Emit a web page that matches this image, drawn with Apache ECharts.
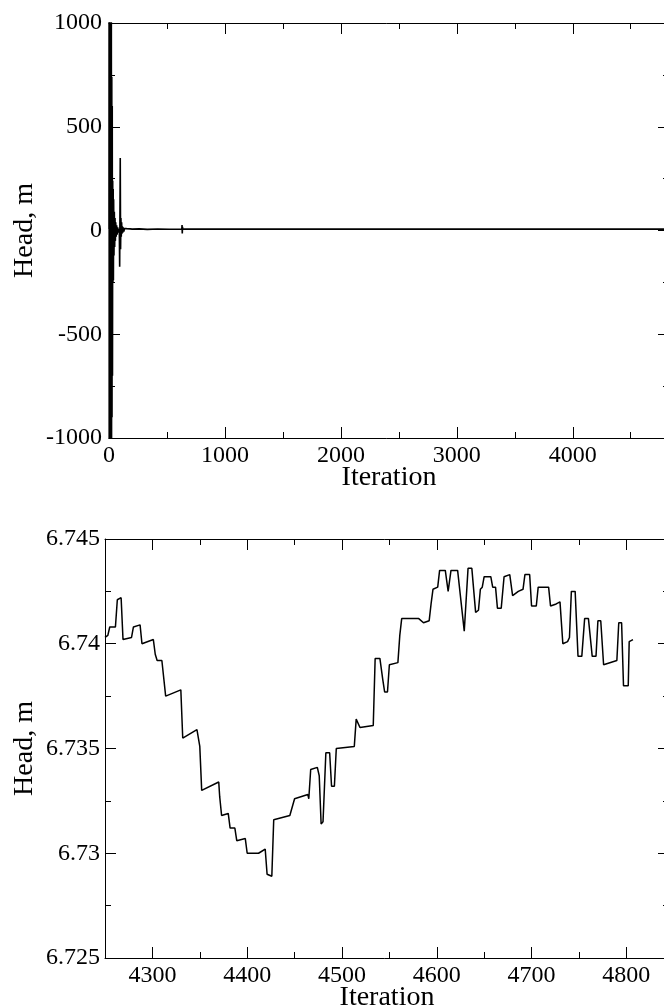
<!DOCTYPE html>
<html>
<head>
<meta charset="utf-8">
<script src="https://cdn.jsdelivr.net/npm/echarts@6/dist/echarts.min.js"></script>
<style>
  html, body { margin: 0; padding: 0; background: #fff; }
  #main { width: 664px; height: 1008px; }
</style>
</head>
<body>
<div id="main"></div>
<script>
// 整个迭代过程 (上图)
var runIter = [0,1,2,4,6,8,10,12,14,16,18,20,22,24,26,28,30,32,34,36,38,40,43,46,49,52,55,58,62,66,
  70,75,80,85,89,92,97,100,103,106,109,112,115,119,123,128,134,142,152,166,182,200,260,330,420,520,628,630,632,634,
  636,640,900,1400,2000,2600,3200,3800,4249];
var runHead = [6.7,1600,-1600,1600,-1600,1500,-1500,1500,-1400,1400,-1300,1200,-1100,740,-900,600,-700,240,-250,200,-240,150,-120,90,-80,60,-50,40,-30,25,
  -20,15,-10,8,-5,-175,349,-90,60,-30,40,-15,20,-10,15,-5,10,2,9,4,8,6.7,8,5.5,7.5,6.2,6.7,26,-14,18,
  6.7,6.74,6.74,6.74,6.74,6.74,6.74,6.74,6.74];

// 最后一段迭代 (下图)
var tailIter = [
  4250,4253,4255,4261,4263,4267,4269,4278,4280,4287,
  4289,4301,4303,4305,4310,4314,4330,4332,4347,4350,
  4352,4370,4371,4373,4380,4382,4387,4389,4398,4400,
  4412,4419,4421,4426,4428,4445,4450,4464,4465,4467,
  4474,4476,4478,4480,4483,4487,4489,4492,4494,4513,
  4515,4519,4533,4535,4540,4543,4545,4548,4550,4559,
  4561,4563,4581,4586,4592,4594,4596,4601,4603,4609,
  4612,4614,4615,4622,4629,4631,4633,4637,4641,4644,
  4646,4648,4650,4657,4659,4662,4664,4668,4671,4677,
  4680,4686,4691,4693,4698,4700,4705,4707,4718,4720,
  4726,4730,4733,4738,4740,4742,4746,4749,4753,4756,
  4760,4764,4768,4770,4773,4776,4790,4792,4795,4797,
  4802,4803,4807];
var tailHead = [
  6.7403,6.7404,6.7408,6.7408,6.7421,6.7422,6.7402,6.7403,6.7408,6.7409,
  6.7400,6.7402,6.7395,6.7392,6.7392,6.7375,6.7378,6.7355,6.7359,6.7351,
  6.7330,6.7334,6.7327,6.7318,6.7319,6.7312,6.7312,6.7306,6.7307,6.7300,
  6.7300,6.7302,6.7290,6.7289,6.7316,6.7318,6.7326,6.7328,6.7326,6.7340,
  6.7341,6.7337,6.7314,6.7315,6.7348,6.7348,6.7332,6.7332,6.7350,6.7351,
  6.7364,6.7360,6.7361,6.7393,6.7393,6.7383,6.7377,6.7377,6.7390,6.7391,
  6.7404,6.7412,6.7412,6.7410,6.7411,6.7419,6.7426,6.7427,6.7435,6.7435,
  6.7425,6.7425,6.7435,6.7435,6.7406,6.7406,6.7436,6.7436,6.7415,6.7416,
  6.7426,6.7427,6.7432,6.7432,6.7427,6.7427,6.7417,6.7417,6.7432,6.7433,
  6.7423,6.7425,6.7426,6.7433,6.7433,6.7418,6.7418,6.7427,6.7427,6.7418,
  6.7419,6.7420,6.7400,6.7401,6.7403,6.7425,6.7425,6.7394,6.7394,6.7412,
  6.7412,6.7394,6.7394,6.7411,6.7411,6.7390,6.7392,6.7410,6.7410,6.7380,
  6.7380,6.7401,6.7402];

// 刻度
var topXTicks = [0, 1000, 2000, 3000, 4000];
var topXMinor = [500, 1500, 2500, 3500, 4500];
var topXLabels = ['0', '1000', '2000', '3000', '4000'];
var topYTicks = [-1000, -500, 0, 500, 1000];
var topYMinor = [-750, -250, 250, 750];
var topYLabels = ['-1000', '-500', '0', '500', '1000'];
var botXTicks = [4300, 4400, 4500, 4600, 4700, 4800];
var botXMinor = [4250, 4350, 4450, 4550, 4650, 4750];
var botXLabels = ['4300', '4400', '4500', '4600', '4700', '4800'];
var botYTicks = [6.725, 6.73, 6.735, 6.74, 6.745];
var botYMinor = [6.7275, 6.7325, 6.7375, 6.7425];
var botYLabels = ['6.725', '6.73', '6.735', '6.74', '6.745'];

var FONT = 'Liberation Serif';

function pairs(xs, ys) {
  var out = [];
  for (var i = 0; i < xs.length; i++) out.push([xs[i], ys[i]]);
  return out;
}
function lookup(vals, labels) {
  return function (v) {
    for (var i = 0; i < vals.length; i++) {
      if (Math.abs(v - vals[i]) < 1e-7) return labels[i];
    }
    return '';
  };
}

// 一根坐标轴 (只画刻度, 可带标签)
function axis(o) {
  return {
    type: 'value',
    gridIndex: o.grid,
    position: o.pos,
    min: o.min,
    max: o.max,
    name: o.name || '',
    nameLocation: 'middle',
    nameGap: o.nameGap || 0,
    nameMoveOverlap: false,
    nameTextStyle: { fontFamily: FONT, fontSize: 28, color: '#000' },
    axisLine: { show: !!o.line, onZero: false, lineStyle: { color: '#000', width: 1 } },
    axisTick: {
      show: true, inside: true, length: o.len || 11,
      customValues: o.ticks,
      lineStyle: { color: '#000', width: 1 }
    },
    axisLabel: {
      show: !!o.labels,
      customValues: o.ticks,
      margin: o.margin || 6,
      fontFamily: FONT, fontSize: 24, color: '#000',
      formatter: o.labels ? lookup(o.ticks, o.labels) : null
    },
    splitLine: { show: false }
  };
}

var chart = echarts.init(document.getElementById('main'));

var TOP_MAX = 4830, BOT_MIN = 4250, BOT_MAX = 4845;

var option = {
  animation: false,
  backgroundColor: '#fff',
  grid: [
    { left: 109, top: 23, right: -5, height: 415, containLabel: false, outerBoundsMode: 'none' },
    { left: 105, top: 539, right: -5, height: 419, containLabel: false, outerBoundsMode: 'none' }
  ],
  xAxis: [
    axis({ grid: 0, pos: 'bottom', min: 0, max: TOP_MAX, ticks: topXTicks, labels: topXLabels, line: true, name: 'Iteration', nameGap: 26, margin: 6 }),
    axis({ grid: 0, pos: 'bottom', min: 0, max: TOP_MAX, ticks: topXMinor, len: 6 }),
    axis({ grid: 0, pos: 'top', min: 0, max: TOP_MAX, ticks: topXTicks, line: true }),
    axis({ grid: 0, pos: 'top', min: 0, max: TOP_MAX, ticks: topXMinor, len: 6 }),
    axis({ grid: 1, pos: 'bottom', min: BOT_MIN, max: BOT_MAX, ticks: botXTicks, labels: botXLabels, line: true, name: 'Iteration', nameGap: 26, margin: 6 }),
    axis({ grid: 1, pos: 'bottom', min: BOT_MIN, max: BOT_MAX, ticks: botXMinor, len: 6 }),
    axis({ grid: 1, pos: 'top', min: BOT_MIN, max: BOT_MAX, ticks: botXTicks, line: true }),
    axis({ grid: 1, pos: 'top', min: BOT_MIN, max: BOT_MAX, ticks: botXMinor, len: 6 })
  ],
  yAxis: [
    axis({ grid: 0, pos: 'left', min: -1000, max: 1000, ticks: topYTicks, labels: topYLabels, line: true, name: 'Head, m', nameGap: 70, margin: 7 }),
    axis({ grid: 0, pos: 'left', min: -1000, max: 1000, ticks: topYMinor, len: 6 }),
    axis({ grid: 0, pos: 'right', min: -1000, max: 1000, ticks: topYTicks, line: true }),
    axis({ grid: 0, pos: 'right', min: -1000, max: 1000, ticks: topYMinor, len: 6 }),
    axis({ grid: 1, pos: 'left', min: 6.725, max: 6.745, ticks: botYTicks, labels: botYLabels, line: true, name: 'Head, m', nameGap: 66, margin: 5 }),
    axis({ grid: 1, pos: 'left', min: 6.725, max: 6.745, ticks: botYMinor, len: 6 }),
    axis({ grid: 1, pos: 'right', min: 6.725, max: 6.745, ticks: botYTicks, line: true }),
    axis({ grid: 1, pos: 'right', min: 6.725, max: 6.745, ticks: botYMinor, len: 6 })
  ],
  series: [
    {
      type: 'line', xAxisIndex: 0, yAxisIndex: 0,
      data: pairs(runIter.concat(tailIter), runHead.concat(tailHead)),
      showSymbol: false, clip: true,
      lineStyle: { color: '#000', width: 1.6 }
    },
    {
      type: 'line', xAxisIndex: 4, yAxisIndex: 4,
      data: pairs(tailIter, tailHead),
      showSymbol: false, clip: true,
      lineStyle: { color: '#000', width: 1.5 }
    }
  ]
};

chart.setOption(option);
window.addEventListener('resize', chart.resize);
</script>
</body>
</html>
